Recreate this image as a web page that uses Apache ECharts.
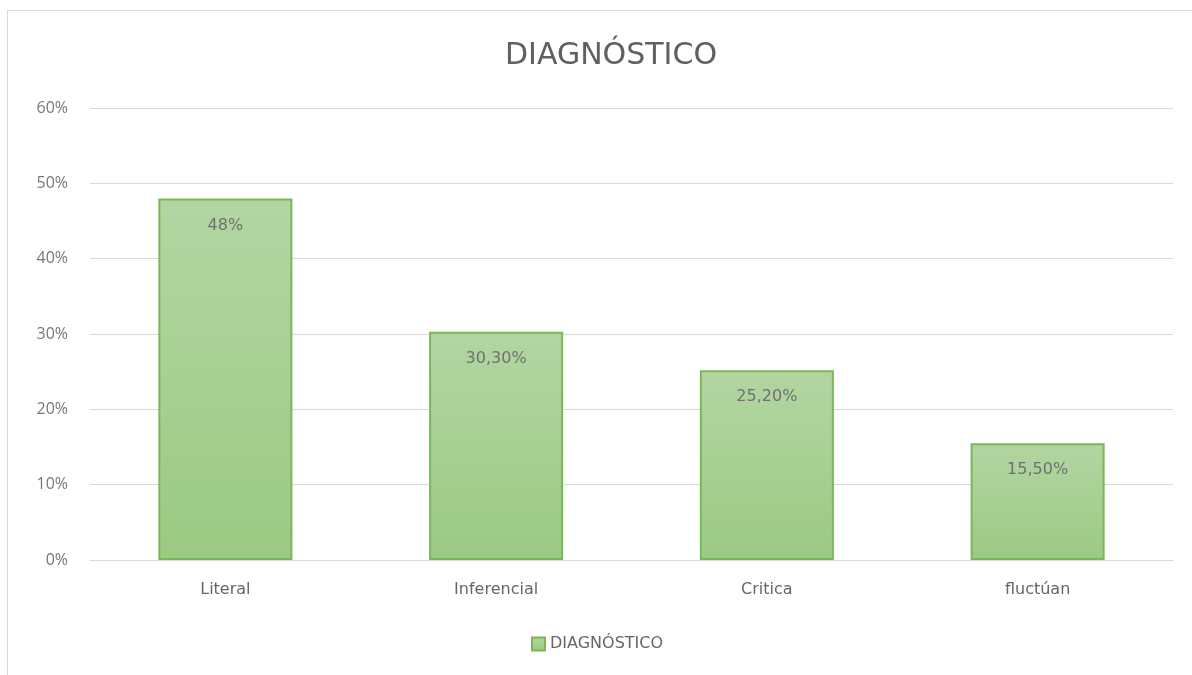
<!DOCTYPE html>
<html>
<head>
<meta charset="utf-8">
<script src="https://cdn.jsdelivr.net/npm/echarts@6/dist/echarts.min.js"></script>
<style>
html,body{margin:0;padding:0;background:#fff;}
#frame{position:absolute;left:7px;top:10px;width:1190px;height:670px;border:1.5px solid #d9d9d9;border-right:none;border-bottom:none;box-sizing:border-box;}
#chart{position:absolute;left:0;top:0;width:1192px;height:675px;}
</style>
</head>
<body>
<div id="frame"></div>
<div id="chart"></div>
<script>
const categories = ['Literal', 'Inferencial', 'Critica', 'fluctúan'];
const values = [48, 30.3, 25.2, 15.5];
const valueLabels = ['48%', '30,30%', '25,20%', '15,50%'];
const yTicks = [0, 10, 20, 30, 40, 50, 60];
const seriesName = 'DIAGNÓSTICO';
const titleText = 'DIAGNÓSTICO';

const chart = echarts.init(document.getElementById('chart'));
const font = 'Open Sans, Noto Sans, sans-serif';
const wide = 'DejaVu Sans, sans-serif';
chart.setOption({
  animation: false,
  title: {
    text: titleText,
    left: 606, top: 36, textAlign: 'center',
    textStyle: { fontFamily: wide, fontSize: 30, fontWeight: 'normal', color: '#606060' }
  },
  legend: {
    bottom: 18, left: 526,
    itemWidth: 13, itemHeight: 13, itemGap: 6,
    icon: 'rect',
    textStyle: { fontFamily: wide, fontSize: 16, color: '#666' },
    data: [seriesName]
  },
  grid: { left: 90, right: 19, top: 108, bottom: 115, containLabel: false },
  xAxis: {
    type: 'category',
    data: categories,
    axisLine: { lineStyle: { color: '#d9d9d9', width: 1 } },
    axisTick: { show: false },
    axisLabel: { fontFamily: wide, fontSize: 16, color: '#666', margin: 22 }
  },
  yAxis: {
    type: 'value',
    min: yTicks[0], max: yTicks[yTicks.length - 1], interval: 10,
    axisLine: { show: false },
    axisTick: { show: false },
    splitLine: { lineStyle: { color: '#d9d9d9', width: 1 } },
    axisLabel: { fontFamily: font, fontSize: 16, color: '#777', margin: 22, formatter: v => v + '%' }
  },
  series: [{
    name: seriesName,
    type: 'bar',
    data: values,
    barWidth: '49.5%',
    itemStyle: {
      color: new echarts.graphic.LinearGradient(0, 0, 0, 1, [
        { offset: 0, color: '#b3d5a2' },
        { offset: 1, color: '#9bca83' }
      ]),
      borderColor: '#78b858',
      borderWidth: 2
    },
    label: {
      show: true,
      position: 'insideTop',
      distance: 19,
      fontFamily: wide, fontSize: 16, color: '#707070',
      formatter: p => valueLabels[p.dataIndex]
    }
  }]
});
</script>
</body>
</html>
